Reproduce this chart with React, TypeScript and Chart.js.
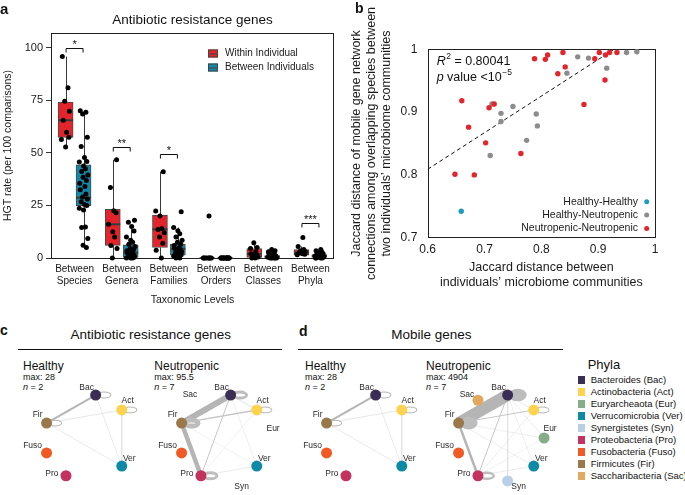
import React, { useEffect, useRef } from "react";
import { Chart, registerables } from "chart.js";

Chart.register(...registerables);

const FONT = "'Liberation Sans', Arial, Helvetica, sans-serif";
Chart.defaults.font.family = FONT;
Chart.defaults.color = "#1a1a1a";

// ================= Panel a data =================
const aTitle = "Antibiotic resistance genes";
const taxLevels = [
  ["Between", "Species"],
  ["Between", "Genera"],
  ["Between", "Families"],
  ["Between", "Orders"],
  ["Between", "Classes"],
  ["Between", "Phyla"],
];
const aSeriesNames = ["Within Individual", "Between Individuals"];
const withinQ1 = [57.4, 6, 5, 0, 0.3, 1.3];
const withinMedian = [65.5, 16, 13.6, 0, 1.9, 2.6];
const withinQ3 = [74.1, 23.2, 20.4, 0, 4.5, 4];
const withinLow = [52.8, 0, 0, 0, 0, 1.3];
const withinHigh = [95.8, 46.7, 41, 0, 7.2, 5.5];
const betweenQ1 = [24.9, 0.3, 1.3, 0, 0, 0.3];
const betweenMedian = [28.7, 2.5, 4.4, 0, 0.5, 1];
const betweenQ3 = [44.3, 6.3, 6.6, 0, 1.2, 1.6];
const betweenLow = [5, 0, 0, 0, 0, 0];
const betweenHigh = [70, 15, 14.5, 0, 3, 3.5];
const withinPoints = [
  [95.8, 81, 74.6, 69.8, 65.5, 59.8, 57.4, 56.3, 52.8],
  [46.7, 33.5, 22.5, 21.5, 16, 12.5, 10, 6, 4.5, 0],
  [41, 22.3, 20, 14, 13.5, 12, 10, 7, 3.7, 0],
  [20, 0, 0, 0, 0, 0, 0, 0, 0],
  [7.2, 5, 4.5, 3, 2, 1.5, 1, 0.5, 0, 0],
  [9.7, 5.5, 4, 3.5, 3, 2.5, 2, 1.8, 1.5],
];
const betweenPoints = [
  [70, 69.3, 68.5, 57.4, 53, 47.8, 45.9, 45.6, 43.8, 42.5, 41.1, 39.5, 38.4, 36.8, 35.6, 34, 32.4, 30.4, 29, 28, 26.8, 25.5, 25, 23.6, 22.8, 14.8, 14.5, 9.3, 6.1, 5],
  [18, 17, 15, 12.8, 10, 8.5, 7.5, 6.5, 5.5, 4.5, 4, 3.5, 3, 2.5, 2, 1.5, 1, 0.8, 0.5, 0.3, 0, 0, 0],
  [22, 14.5, 13, 11.5, 10, 8.5, 7.5, 6.5, 6, 5, 4.5, 4, 3.5, 3, 2.5, 2, 1.5, 1, 0.5, 0, 0],
  [0, 0, 0, 0, 0, 0, 0, 0, 0, 0, 0, 0, 0, 0, 0],
  [4, 3.5, 3, 2.5, 2, 1.5, 1.2, 1, 0.8, 0.5, 0.5, 0.3, 0.2, 0, 0, 0, 0, 0],
  [4, 3.5, 3, 2.5, 2, 1.8, 1.5, 1.2, 1, 1, 0.8, 0.5, 0.5, 0.3, 0, 0, 0, 0],
];
const sigCategory = [0, 1, 2, 5];
const sigValue = [100, 53, 49.4, 16.7];
const sigLabel = ["*", "**", "*", "***"];
const aYTicks = [0, 25, 50, 75, 100];

// ================= Panel b data =================
const bSeriesNames = ["Healthy-Healthy", "Healthy-Neutropenic", "Neutropenic-Neutropenic"];
const hhX = [0.659];
const hhY = [0.742];
const hnX = [0.713, 0.729, 0.729, 0.75, 0.774, 0.791, 0.793, 0.845, 0.864, 0.883, 0.915, 0.95, 0.968, 0.71];
const hnY = [0.913, 0.898, 0.885, 0.909, 0.855, 0.897, 0.878, 0.962, 0.988, 0.986, 0.97, 0.995, 0.996, 0.831];
const nnX = [0.66, 0.672, 0.702, 0.708, 0.717, 0.788, 0.807, 0.811, 0.829, 0.838, 0.842, 0.875, 0.894, 0.902, 0.912, 0.913, 0.92, 0.933, 0.764, 0.648, 0.682];
const nnY = [0.918, 0.876, 0.851, 0.907, 0.913, 0.985, 0.984, 0.991, 0.961, 0.995, 0.972, 0.912, 0.985, 0.995, 0.951, 0.991, 0.995, 0.995, 0.834, 0.801, 0.8];
const fitX = [0.6, 0.928];
const fitY = [0.809, 1];
const bXTicks = [0.6, 0.7, 0.8, 0.9, 1];
const bXTickLabels = ["0.6", "0.7", "0.8", "0.9", "1"];
const bYTicks = [0.7, 0.8, 0.9, 1];
const bYTickLabels = ["0.7", "0.8", "0.9", "1"];

// ================= Networks (c, d) =================
const phyla = ["Bac", "Act", "Eur", "Ver", "Syn", "Pro", "Fuso", "Fir", "Sac"];
const phylaNames = [
  "Bacteroides (Bac)",
  "Actinobacteria (Act)",
  "Euryarcheaota (Eur)",
  "Verrucomicrobia (Ver)",
  "Synergistetes (Syn)",
  "Proteobacteria (Pro)",
  "Fusobacteria (Fuso)",
  "Firmicutes (Fir)",
  "Saccharibacteria (Sac)",
];
const phylaColors = ["#3a2e55", "#ffd24f", "#86ad8a", "#0e8aa7", "#b9cfe6", "#c23360", "#f15a24", "#9a7849", "#e2a85f"];

const cHealthyNodes = ["Bac", "Act", "Ver", "Pro", "Fuso", "Fir"];
const cHealthyEdges: [string, string, number][] = [
  ["Bac", "Fir", 2], ["Act", "Fir", 0.7], ["Bac", "Ver", 0.6], ["Fir", "Ver", 0.6], ["Act", "Ver", 0.5],
];
const cHealthyLoops: [string, number][] = [["Bac", 1], ["Act", 0.8], ["Fir", 0.8]];

const cNeutroNodes = ["Bac", "Act", "Ver", "Pro", "Fuso", "Fir"];
const cNeutroLabelOnly = ["Eur", "Syn", "Sac"];
const cNeutroEdges: [string, string, number][] = [
  ["Bac", "Fir", 6], ["Fir", "Pro", 4.5], ["Act", "Fir", 1.4], ["Bac", "Act", 0.8], ["Bac", "Pro", 1],
  ["Bac", "Ver", 0.5], ["Fir", "Ver", 0.4], ["Act", "Pro", 0.4], ["Pro", "Ver", 0.6],
];
const cNeutroLoops: [string, number][] = [["Fir", 5], ["Bac", 3], ["Pro", 3], ["Act", 0.8]];

const dHealthyNodes = ["Bac", "Act", "Ver", "Pro", "Fuso", "Fir"];
const dHealthyEdges: [string, string, number][] = [
  ["Bac", "Fir", 2], ["Act", "Fir", 0.7], ["Bac", "Ver", 0.6], ["Fir", "Ver", 0.6], ["Act", "Ver", 0.5],
];
const dHealthyLoops: [string, number][] = [["Bac", 1], ["Act", 0.8], ["Fir", 0.8]];

const dNeutroNodes = ["Bac", "Act", "Eur", "Ver", "Syn", "Pro", "Fuso", "Fir", "Sac"];
const dNeutroEdges: [string, string, number][] = [
  ["Bac", "Fir", 12], ["Fir", "Pro", 2.5], ["Act", "Fir", 1], ["Bac", "Act", 0.6], ["Bac", "Pro", 1],
  ["Bac", "Syn", 0.5], ["Bac", "Ver", 0.5], ["Bac", "Eur", 0.5], ["Fir", "Eur", 0.5], ["Fir", "Ver", 0.5],
  ["Pro", "Ver", 0.6], ["Act", "Pro", 0.5], ["Pro", "Eur", 0.4],
];
const dNeutroLoops: [string, number][] = [["Bac", 10], ["Fir", 8], ["Pro", 2.5], ["Act", 1]];

// ================= styles =================
const RED = "#e3242b";
const BLUE_BOX = "#1387a8";
const BLUE_DOT = "#1e9bc4";
const GRAY_DOT = "#8c8c8c";

const JITTER = [-0.07, 0.05, -0.02, 0.08, -0.05, 0.02, 0.07, -0.09, 0.0, 0.04, -0.04, 0.09, -0.01, 0.06, -0.08, 0.03];
const BOX_SIDE = 0.19;

function jitterPoints(groups: number[][], side: number) {
  const out: { x: number; y: number }[] = [];
  groups.forEach((vals, ci) =>
    vals.forEach((v, k) => out.push({ x: ci + side + JITTER[(k + ci * 3) % JITTER.length], y: v }))
  );
  return out;
}

function buildA(): any {
  const extras = {
    id: "aExtras",
    beforeDatasetsDraw(chart: any) {
      const { ctx, chartArea: ca, scales } = chart;
      const y = scales.y;
      ctx.save();
      ctx.strokeStyle = "#222";
      ctx.lineWidth = 1;
      ctx.strokeRect(Math.round(ca.left) + 0.5, Math.round(ca.top) + 0.5, Math.round(ca.right - ca.left) - 1, Math.round(ca.bottom - ca.top));
      ctx.strokeStyle = "#3a3a3a";
      const groups = [
        [withinLow, withinQ1, withinQ3, withinHigh],
        [betweenLow, betweenQ1, betweenQ3, betweenHigh],
      ];
      groups.forEach((g, di) => {
        chart.getDatasetMeta(di).data.forEach((el: any, i: number) => {
          const x = Math.round(el.x) + 0.5;
          ctx.beginPath();
          ctx.moveTo(x, y.getPixelForValue(g[3][i]));
          ctx.lineTo(x, y.getPixelForValue(g[2][i]));
          ctx.moveTo(x, y.getPixelForValue(g[1][i]));
          ctx.lineTo(x, y.getPixelForValue(g[0][i]));
          ctx.stroke();
        });
      });
      ctx.restore();
    },
    afterDatasetDraw(chart: any, args: any) {
      if (args.index > 1) return;
      const med = args.index === 0 ? withinMedian : betweenMedian;
      const { ctx, scales } = chart;
      ctx.save();
      ctx.strokeStyle = "#3a3a3a";
      ctx.lineWidth = 2;
      args.meta.data.forEach((el: any, i: number) => {
        const py = scales.y.getPixelForValue(med[i]);
        ctx.beginPath();
        ctx.moveTo(el.x - el.width / 2, py);
        ctx.lineTo(el.x + el.width / 2, py);
        ctx.stroke();
      });
      ctx.restore();
    },
    afterDraw(chart: any) {
      const { ctx, chartArea: ca, scales } = chart;
      const y = scales.y;
      const xj = scales.xj;
      ctx.save();
      ctx.strokeStyle = "#111";
      ctx.fillStyle = "#111";
      ctx.lineWidth = 1;
      sigCategory.forEach((c, i) => {
        const x1 = xj.getPixelForValue(c - 0.18);
        const x2 = xj.getPixelForValue(c + 0.18);
        const py = Math.round(y.getPixelForValue(sigValue[i])) + 0.5;
        ctx.beginPath();
        ctx.moveTo(x1, py + 4);
        ctx.lineTo(x1, py);
        ctx.lineTo(x2, py);
        ctx.lineTo(x2, py + 4);
        ctx.stroke();
        ctx.font = `11px ${FONT}`;
        ctx.textAlign = "center";
        ctx.textBaseline = "alphabetic";
        ctx.fillText(sigLabel[i], (x1 + x2) / 2, py - 1);
      });
      // title
      ctx.font = `13.5px ${FONT}`;
      ctx.textAlign = "center";
      ctx.textBaseline = "middle";
      ctx.fillText(aTitle, (ca.left + ca.right) / 2, 20.7);
      // legend
      const colors = [RED, BLUE_BOX];
      aSeriesNames.forEach((name, i) => {
        const gx = ca.right - 126;
        const cy = ca.top + 20.5 + i * 14;
        ctx.fillStyle = colors[i];
        ctx.fillRect(gx, cy - 4, 10, 8);
        ctx.strokeStyle = "#444";
        ctx.lineWidth = 1;
        ctx.strokeRect(gx + 0.5, cy - 3.5, 9, 7);
        ctx.beginPath();
        ctx.moveTo(gx, cy + 0.5);
        ctx.lineTo(gx + 10, cy + 0.5);
        ctx.stroke();
        ctx.fillStyle = "#1a1a1a";
        ctx.font = `10px ${FONT}`;
        ctx.textAlign = "left";
        ctx.textBaseline = "middle";
        ctx.fillText(name, gx + 17, cy);
      });
      ctx.restore();
    },
  };

  const boxDataset = (q1: number[], q3: number[], side: number, label: string, color: string) => ({
    label,
    data: q1.map((q, i) => ({ x: i + side, y: [q, q3[i]] })),
    xAxisID: "xj",
    backgroundColor: color,
    borderColor: "#4a4a4a",
    borderWidth: 1,
    borderSkipped: false,
    barThickness: 15,
    grouped: false,
    order: 2,
  });

  return {
    type: "bar",
    data: {
      labels: taxLevels,
      datasets: [
        boxDataset(withinQ1, withinQ3, -BOX_SIDE, aSeriesNames[0], RED),
        boxDataset(betweenQ1, betweenQ3, BOX_SIDE, aSeriesNames[1], BLUE_BOX),
        {
          type: "scatter",
          data: [...jitterPoints(withinPoints, -BOX_SIDE), ...jitterPoints(betweenPoints, BOX_SIDE)],
          xAxisID: "xj",
          backgroundColor: "#000",
          borderWidth: 0,
          pointRadius: 2.5,
          clip: false,
          order: 1,
        },
      ],
    },
    options: {
      responsive: false,
      animation: false,
      devicePixelRatio: 1,
      events: [],
      layout: { padding: { left: 0, right: 6, top: 33, bottom: 0 } },
      plugins: {
        legend: { display: false },
        tooltip: { enabled: false },
        title: { display: false },
      },
      scales: {
        x: {
          type: "category",
          offset: true,
          grid: { display: false, drawTicks: false, tickLength: 0 },
          border: { display: false },
          ticks: { font: { size: 10 }, color: "#1a1a1a", padding: 5, maxRotation: 0, autoSkip: false },
          title: { display: true, text: "Taxonomic Levels", font: { size: 10.5 }, color: "#1a1a1a", padding: { top: 2, bottom: 3.7 } },
          afterFit: (s: any) => { s.height = 52; },
        },
        xj: { type: "linear", display: false, offset: false, min: -0.5, max: taxLevels.length - 0.5, grid: { offset: false } },
        y: {
          type: "linear",
          min: 0,
          max: 107,
          afterBuildTicks: (s: any) => { s.ticks = aYTicks.map((v) => ({ value: v })); },
          grid: { display: true, drawOnChartArea: false, drawTicks: true, tickLength: 5, color: "#333" },
          border: { display: false },
          ticks: { font: { size: 11 }, color: "#1a1a1a", padding: 3 },
          title: { display: true, text: "HGT rate (per 100 comparisons)", font: { size: 10.5 }, color: "#1a1a1a", padding: { top: 1.7, bottom: 0 } },
          afterFit: (s: any) => { s.width = 51; },
        },
      },
    },
    plugins: [extras],
  };
}

function buildB(): any {
  const extras = {
    id: "bExtras",
    beforeDatasetsDraw(chart: any) {
      const { ctx, chartArea: ca } = chart;
      ctx.save();
      ctx.strokeStyle = "#222";
      ctx.lineWidth = 1;
      ctx.strokeRect(Math.round(ca.left) + 0.5, Math.round(ca.top) + 0.5, Math.round(ca.right - ca.left), Math.round(ca.bottom - ca.top));
      ctx.restore();
    },
    afterDraw(chart: any) {
      const { ctx, chartArea: ca } = chart;
      ctx.save();
      ctx.fillStyle = "#111";
      ctx.textBaseline = "middle";
      ctx.textAlign = "left";
      let x = ca.left + 9;
      let yy = ca.top + 12.5;
      ctx.font = `italic 12.5px ${FONT}`;
      ctx.fillText("R", x, yy);
      x += ctx.measureText("R").width;
      ctx.font = `8.5px ${FONT}`;
      ctx.fillText("2", x + 0.5, yy - 5);
      x += ctx.measureText("2").width + 0.5;
      ctx.font = `12.5px ${FONT}`;
      ctx.fillText(" = 0.80041", x, yy);
      x = ca.left + 9;
      yy = ca.top + 28.5;
      ctx.font = `italic 12.5px ${FONT}`;
      ctx.fillText("p", x, yy);
      x += ctx.measureText("p").width;
      ctx.font = `12.5px ${FONT}`;
      ctx.fillText(" value <10", x, yy);
      x += ctx.measureText(" value <10").width;
      ctx.font = `8.5px ${FONT}`;
      ctx.fillText("\u22125", x + 0.5, yy - 5);
      // legend
      const cols = [BLUE_DOT, GRAY_DOT, RED];
      const offs = [36, 22.7, 9.2];
      bSeriesNames.forEach((n, i) => {
        const cy = ca.bottom - offs[i];
        ctx.font = `10.5px ${FONT}`;
        ctx.textAlign = "right";
        ctx.fillStyle = "#1a1a1a";
        ctx.fillText(n, ca.right - 17, cy);
        ctx.beginPath();
        ctx.fillStyle = cols[i];
        ctx.arc(ca.right - 8.3, cy, 2.5, 0, Math.PI * 2);
        ctx.fill();
      });
      ctx.restore();
    },
  };
  const pts = (xs: number[], ys: number[]) => xs.map((v, i) => ({ x: v, y: ys[i] }));
  return {
    type: "scatter",
    data: {
      datasets: [
        { data: pts(nnX, nnY), backgroundColor: RED, borderWidth: 0, pointRadius: 2.7, clip: false },
        { data: pts(hnX, hnY), backgroundColor: GRAY_DOT, borderWidth: 0, pointRadius: 2.7, clip: false },
        { data: pts(hhX, hhY), backgroundColor: BLUE_DOT, borderWidth: 0, pointRadius: 2.7, clip: false },
        {
          data: pts(fitX, fitY),
          showLine: true,
          borderColor: "#111",
          borderWidth: 1,
          borderDash: [4, 3],
          pointRadius: 0,
        },
      ],
    },
    options: {
      responsive: false,
      animation: false,
      devicePixelRatio: 1,
      events: [],
      layout: { padding: { left: 0, right: 30, top: 49.3, bottom: 0 } },
      plugins: { legend: { display: false }, tooltip: { enabled: false } },
      scales: {
        x: {
          type: "linear",
          min: 0.6,
          max: 1,
          afterBuildTicks: (s: any) => { s.ticks = bXTicks.map((v) => ({ value: v })); },
          grid: { display: false, drawTicks: false },
          border: { display: false },
          ticks: { font: { size: 12 }, color: "#1a1a1a", padding: 5, callback: (_v: any, i: number) => bXTickLabels[i] },
          title: {
            display: true,
            text: ["Jaccard distance between", "individuals\u2019 microbiome communities"],
            font: { size: 12.5 },
            color: "#1a1a1a",
            padding: { top: 2, bottom: 10.2 },
          },
          afterFit: (s: any) => { s.height = 62.3; },
        },
        y: {
          type: "linear",
          min: 0.7,
          max: 1,
          afterBuildTicks: (s: any) => { s.ticks = bYTicks.map((v) => ({ value: v })); },
          grid: { display: false, drawTicks: false },
          border: { display: false },
          ticks: { font: { size: 12 }, color: "#1a1a1a", padding: 10.4, callback: (_v: any, i: number) => bYTickLabels[i] },
          title: {
            display: true,
            text: [
              "Jaccard distance of mobile gene network",
              "connections among overlapping species between",
              "two individuals\u2019 microbiome communities",
            ],
            font: { size: 12.5 },
            color: "#1a1a1a",
            padding: { top: 9.5, bottom: 0 },
          },
          afterFit: (s: any) => { s.width = 87.7; },
        },
      },
    },
    plugins: [extras],
  };
}

const LABEL_OFFSET: Record<string, [number, number]> = {
  Bac: [-9, -7], Act: [6, -9], Eur: [6, -9.5], Ver: [7.5, -7], Syn: [11, 6],
  Pro: [-14, -2], Fuso: [-14, -7], Fir: [-9, -8], Sac: [-11, -6],
};

function nodePos(name: string) {
  const i = phyla.indexOf(name);
  const a = ((-80 + (360 / phyla.length) * i) * Math.PI) / 180;
  return { x: Math.cos(a), y: -Math.sin(a) };
}
function edgeColor(w: number) {
  if (w >= 1.5) return "#b5b5b5";
  if (w >= 0.9) return "#c6c6c6";
  return "#dcdcdc";
}

function buildNet(nodes: string[], labelOnly: string[], edges: [string, string, number][], loops: [string, number][]): any {
  const plug = {
    id: "net",
    beforeDatasetDraw(chart: any, args: any) {
      if (args.index !== 0) return;
      const { ctx, scales } = chart;
      ctx.save();
      loops.forEach(([n, w]) => {
        const p = nodePos(n);
        const px = scales.x.getPixelForValue(p.x);
        const py = scales.y.getPixelForValue(p.y);
        const rx = Math.min(7 + w * 0.4, 9);
        const ry = Math.min(3 + w * 0.5, 6.3);
        const cx = px + rx + 1;
        ctx.fillStyle = w >= 1.5 ? "#bdbdbd" : "#b8b8b8";
        ctx.beginPath();
        ctx.ellipse(cx, py, rx, ry, 0, 0, Math.PI * 2);
        ctx.fill();
        const irx = rx - Math.max(w, 1);
        const iry = ry - Math.max(w, 1);
        if (irx > 0 && iry > 0) {
          ctx.fillStyle = "#fff";
          ctx.beginPath();
          ctx.ellipse(cx, py, irx, iry, 0, 0, Math.PI * 2);
          ctx.fill();
        }
      });
      ctx.restore();
    },
    afterDatasetsDraw(chart: any) {
      const { ctx, scales } = chart;
      ctx.save();
      ctx.fillStyle = "#2a2a2a";
      ctx.font = `8.5px ${FONT}`;
      ctx.textAlign = "center";
      ctx.textBaseline = "middle";
      [...nodes, ...labelOnly].forEach((n) => {
        const p = nodePos(n);
        const o = LABEL_OFFSET[n];
        ctx.fillText(n, scales.x.getPixelForValue(p.x) + o[0], scales.y.getPixelForValue(p.y) + o[1]);
      });
      ctx.restore();
    },
  };
  return {
    type: "scatter",
    data: {
      datasets: [
        {
          data: nodes.map(nodePos),
          backgroundColor: nodes.map((n) => phylaColors[phyla.indexOf(n)]),
          borderWidth: 0,
          pointRadius: 5.5,
          clip: false,
        },
        ...edges.map(([a, b, w]) => ({
          data: [nodePos(a), nodePos(b)],
          showLine: true,
          borderColor: edgeColor(w),
          borderWidth: w,
          pointRadius: 0,
          clip: false,
        })),
      ],
    },
    options: {
      responsive: false,
      animation: false,
      devicePixelRatio: 1,
      events: [],
      layout: { padding: 0 },
      plugins: { legend: { display: false }, tooltip: { enabled: false } },
      scales: {
        x: { type: "linear", display: false, min: -1.35, max: 1.35 },
        y: { type: "linear", display: false, min: -1.25, max: 1.25 },
      },
    },
    plugins: [plug],
  };
}

function ChartCanvas({ left, top, width, height, build }: { left: number; top: number; width: number; height: number; build: () => any }) {
  const ref = useRef<HTMLCanvasElement>(null);
  useEffect(() => {
    const chart = new Chart(ref.current as HTMLCanvasElement, build());
    return () => chart.destroy();
  }, []);
  return <canvas ref={ref} width={width} height={height} style={{ position: "absolute", left, top, width, height }} />;
}

function Txt({ x, base, size, children, bold, italic, center, color }: any) {
  const top = base - 0.8465 * size;
  return (
    <div
      style={{
        position: "absolute",
        left: center ? x - 200 : x,
        width: center ? 400 : undefined,
        textAlign: center ? "center" : "left",
        top,
        fontSize: size,
        lineHeight: 1,
        fontFamily: FONT,
        fontWeight: bold ? "bold" : "normal",
        fontStyle: italic ? "italic" : "normal",
        whiteSpace: "nowrap",
        color: color || "#111",
      }}
    >
      {children}
    </div>
  );
}

function NetHeader({ x, title, max, n }: { x: number; title: string; max: string; n: string }) {
  return (
    <>
      <Txt x={x} base={370} size={12}>{title}</Txt>
      <Txt x={x} base={381} size={9}>{max}</Txt>
      <Txt x={x} base={391} size={9}>
        <i>n</i> = {n}
      </Txt>
    </>
  );
}

export default function App() {
  const cy = 438;
  return (
    <div style={{ position: "absolute", left: 0, top: 0, width: 685, height: 495, background: "#fff", overflow: "hidden" }}>
      <ChartCanvas left={0} top={0} width={340} height={310} build={buildA} />
      <ChartCanvas left={340} top={0} width={345} height={300} build={buildB} />
      <Txt x={0} base={13.5} size={15} bold>a</Txt>
      <Txt x={355} base={12.7} size={14} bold>b</Txt>

      <Txt x={0} base={335} size={14} bold>c</Txt>
      <Txt x={299} base={335.5} size={14} bold>d</Txt>
      <Txt x={150.8} base={339.3} size={13.5} center>Antibiotic resistance genes</Txt>
      <Txt x={431.3} base={339.3} size={13.5} center>Mobile genes</Txt>
      <div style={{ position: "absolute", left: 18, top: 349, width: 264, height: 1, background: "#111" }} />
      <div style={{ position: "absolute", left: 298, top: 349, width: 265, height: 1, background: "#111" }} />

      <NetHeader x={23} title="Healthy" max="max: 28" n="2" />
      <NetHeader x={154.3} title="Neutropenic" max="max: 95.5" n="7" />
      <NetHeader x={305} title="Healthy" max="max: 28" n="2" />
      <NetHeader x={426} title="Neutropenic" max="max: 4904" n="7" />

      <ChartCanvas left={87.5 - 65} top={cy - 60} width={130} height={120} build={() => buildNet(cHealthyNodes, [], cHealthyEdges, cHealthyLoops)} />
      <ChartCanvas left={222.5 - 65} top={cy - 60} width={130} height={120} build={() => buildNet(cNeutroNodes, cNeutroLabelOnly, cNeutroEdges, cNeutroLoops)} />
      <ChartCanvas left={367.5 - 65} top={cy - 60} width={130} height={120} build={() => buildNet(dHealthyNodes, [], dHealthyEdges, dHealthyLoops)} />
      <ChartCanvas left={500 - 65} top={cy - 60} width={130} height={120} build={() => buildNet(dNeutroNodes, [], dNeutroEdges, dNeutroLoops)} />

      <Txt x={587.7} base={369.3} size={13}>Phyla</Txt>
      {phylaNames.map((name, i) => (
        <React.Fragment key={name}>
          <div style={{ position: "absolute", left: 577.7, top: 380 + 12 * i - 3.7, width: 7.5, height: 7.5, background: phylaColors[i] }} />
          <Txt x={590.7} base={380 + 12 * i + 3.4} size={9.5}>{name}</Txt>
        </React.Fragment>
      ))}
    </div>
  );
}
